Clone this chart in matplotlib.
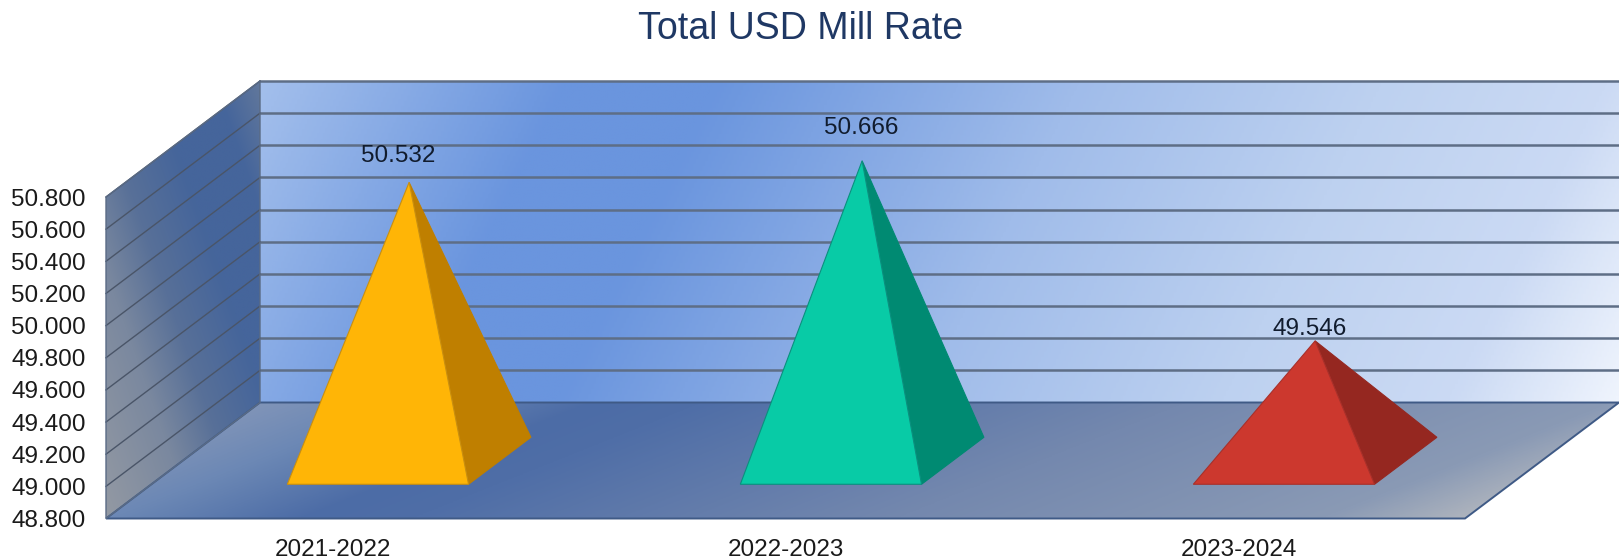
import numpy as np
import matplotlib
matplotlib.use('Agg')
import matplotlib.pyplot as plt
from matplotlib.colors import LinearSegmentedColormap
from matplotlib.patches import Polygon

plt.rcParams['font.family'] = ['Liberation Sans', 'DejaVu Sans']

years = ['2021-2022', '2022-2023', '2023-2024']
rates = [50.532, 50.666, 49.546]
y_ticks = [48.8, 49.0, 49.2, 49.4, 49.6, 49.8, 50.0, 50.2, 50.4, 50.6, 50.8]

front_colors = ['#FFB506', '#08CBA6', '#CC382E']
side_colors = ['#BF7F00', '#008A72', '#952720']
edge_colors = ['#C98F10', '#0B8F7E', '#A8302A']
label_shift = [(-11, 26), (-1, 33), (-5, 12)]

W, H = 1619, 560
left, right, bottom, top = 106, 1465, 518.5, 197

fig = plt.figure(figsize=(W / 100, H / 100), dpi=100, facecolor='white')
ax = fig.add_axes([left / W, 1 - bottom / H, (right - left) / W, (bottom - top) / H])
ax.set_xlim(0, 3)
ax.set_ylim(y_ticks[0], y_ticks[-1])

# how far the back of the box is shifted from the front, in data units
unit_x = (right - left) / 3
unit_y = (bottom - top) / (y_ticks[-1] - y_ticks[0])
depth_x = 154 / unit_x
depth_y = 116 / unit_y


def proj(x, v, d):
    return x + d * depth_x, v + d * depth_y


def gradient(corners, stops, weights, zorder=1):
    # fill a polygon with a linear gradient running along weights (per pixel)
    xs = [c[0] for c in corners]
    ys = [c[1] for c in corners]
    ext = [min(xs), max(xs), min(ys), max(ys)]
    gx, gy = np.meshgrid(np.linspace(ext[0], ext[1], 500), np.linspace(ext[2], ext[3], 250))
    t = weights[0] * (gx - ext[0]) * unit_x + weights[1] * (gy - ext[2]) * unit_y
    t = (t - t.min()) / (t.max() - t.min())
    cmap = LinearSegmentedColormap.from_list('g', stops)
    im = ax.imshow(t, extent=ext, origin='lower', cmap=cmap, aspect='auto', zorder=zorder,
                   interpolation='bilinear')
    # images get cut to the clip box first, so open it up to the whole figure
    im.set_clip_box(fig.bbox)
    im.set_clip_path(Polygon(corners, closed=True, transform=ax.transData))


v0, v1 = y_ticks[0], y_ticks[-1]

# back wall
back = [proj(0, v0, 1), proj(3, v0, 1), proj(3, v1, 1), proj(0, v1, 1)]
gradient(back,
         [(0, '#A3BFEC'), (0.2, '#6A95DE'), (0.3, '#6A95DE'), (0.54, '#A0BCEA'),
          (0.74, '#BDD1F0'), (0.89, '#CBDAF4'), (1, '#EFF4FD')],
         (1, -0.5))

# left wall
wall = [proj(0, v0, 0), proj(0, v0, 1), proj(0, v1, 1), proj(0, v1, 0)]
gradient(wall,
         [(0, '#9399A3'), (0.28, '#7A889F'), (0.45, '#587098'), (0.65, '#45659B'),
          (0.85, '#45659B'), (1, '#62789C')],
         (1, 0.35))

# floor
floor = [proj(0, v0, 0), proj(3, v0, 0), proj(3, v0, 1), proj(0, v0, 1)]
gradient(floor,
         [(0, '#8094B8'), (0.085, '#8094B8'), (0.162, '#6C88B5'), (0.27, '#4C6CA6'),
          (0.33, '#4F6EA7'), (0.6, '#7488AE'), (0.838, '#8A9AB5'), (0.915, '#ADB3BD'),
          (1, '#ADB3BD')],
         (1, -2.5))

for v in y_ticks[1:]:
    xb, yb = proj(0, v, 1)
    xe, _ = proj(3, v, 1)
    ax.plot([xb, xe], [yb, yb], color='#5E6E86', lw=1.8, zorder=2, clip_on=False)
    xf, yf = proj(0, v, 0)
    ax.plot([xf, xb], [yf, yb], color='#4A5568', lw=1.0, zorder=2, clip_on=False)

# box outlines
ax.add_patch(Polygon(floor, closed=True, fill=False, ec='#3F5A86', lw=1.4, zorder=2, clip_on=False))
ax.add_patch(Polygon(wall, closed=True, fill=False, ec='#5A6B85', lw=1.0, zorder=2, clip_on=False))

# pyramids standing on the floor
half = 0.2
d_front, d_back = 0.295, 0.70
for i, rate in enumerate(rates):
    cx = i + 0.5
    fl = proj(cx - half, v0, d_front)
    fr = proj(cx + half, v0, d_front)
    br = proj(cx + half, v0, d_back)
    apex = proj(cx, rate, (d_front + d_back) / 2)
    ax.add_patch(Polygon([fr, br, apex], closed=True, fc=side_colors[i], ec=side_colors[i],
                         lw=0.8, zorder=3, clip_on=False))
    ax.add_patch(Polygon([fl, fr, apex], closed=True, fc=front_colors[i], ec=edge_colors[i],
                         lw=0.8, zorder=4, clip_on=False))
    ax.annotate(f'{rate:.3f}', apex, xytext=(label_shift[i][0] * 0.72, label_shift[i][1] * 0.72),
                textcoords='offset points', ha='center', va='center', fontsize=17.5,
                color='#111C2E', zorder=5, annotation_clip=False)

for s in ax.spines.values():
    s.set_visible(False)
ax.patch.set_visible(False)
ax.set_xticks([i + 0.5 for i in range(len(years))])
ax.set_xticklabels(years, fontsize=17.5, color='#1A1A1A')
ax.set_yticks(y_ticks)
ax.set_yticklabels([f'{v:.3f}' for v in y_ticks], fontsize=17.5, color='#1A1A1A')
ax.tick_params(length=0, pad=14.5, axis='x')
ax.tick_params(length=0, pad=14.5, axis='y')
ax.set_xlim(0, 3)
ax.set_ylim(v0, v1)

fig.text(775 * 1.0325 / W, 1 - 28 * 1.0325 / H, 'Total USD Mill Rate', fontsize=27,
         color='#1F3864', ha='center', va='center')

fig.savefig('out.png', dpi=100)
